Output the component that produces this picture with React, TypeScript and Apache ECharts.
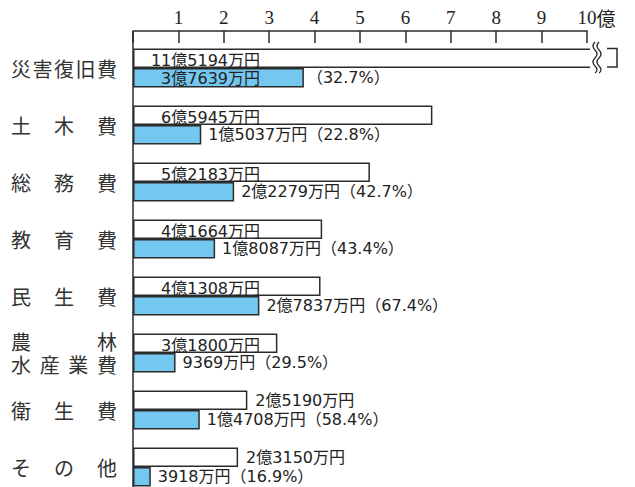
import React, { useEffect, useRef } from "react";
import * as echarts from "echarts";

// ---- data (amounts in 万円) ----
const CATEGORIES = ["災害復旧費", "土木費", "総務費", "教育費", "民生費", "農林\n水産業費", "衛生費", "その他"];
const TOTAL_MAN = [115194, 65945, 52183, 41664, 41308, 31800, 25190, 23150];
const PART_MAN = [37639, 15037, 22279, 18087, 27837, 9369, 14708, 3918];
const PART_PCT = ["32.7", "22.8", "42.7", "43.4", "67.4", "29.5", "58.4", "16.9"];
const AXIS_MIN = 0;
const AXIS_MAX = 10;
const AXIS_INTERVAL = 1;
const UNIT_LABEL = "億";
const BREAK_AT = 10.15; // values above the axis end are drawn broken

const LINE = "#2b2b2b";
const BLUE = "#74c7ef";
const LABEL_FONT = "'DejaVu Sans', 'Noto Sans CJK JP', sans-serif";
const CJK_FONT = "'Noto Sans CJK JP', sans-serif";
const SERIF_FONT = "'Liberation Serif', serif";

const WAVE_D =
  "M4 0 Q0 4 4 8 Q8 12 4 16 Q0 20 4 24 Q8 28 4 31 M8 0 Q4 4 8 8 Q12 12 8 16 Q4 20 8 24 Q12 28 8 31";

let registered = false;
function ensureShapes() {
  if (registered) return;
  echarts.graphic.registerShape("breakWave", echarts.graphic.extendPath(WAVE_D, {}) as any);
  registered = true;
}

function yen(man: number): string {
  const oku = Math.floor(man / 10000);
  const rest = man % 10000;
  return (oku > 0 ? oku + "億" : "") + (rest > 0 ? String(rest) : "") + "万円";
}

function spread(line: string): string {
  const chars = Array.from(line);
  const n = chars.length;
  return chars.map((c, k) => (k === n - 1 ? `{e|${c}}` : `{s${n}|${c}}`)).join("");
}

export default function App() {
  const ref = useRef<HTMLDivElement>(null);

  useEffect(() => {
    if (!ref.current) return;
    ensureShapes();
    const chart = echarts.init(ref.current, null, { renderer: "svg" });

    const catStyle = (w: number) => ({
      width: w,
      align: "left",
      fontSize: 20,
      fontFamily: CJK_FONT,
      color: "#333",
      lineHeight: 23,
    });

    const whiteData = TOTAL_MAN.map((m) => {
      const v = m / 10000;
      const inside = v >= 3;
      return {
        value: Math.min(v, BREAK_AT),
        label: inside
          ? { position: [127, 12], align: "right", verticalAlign: "middle" }
          : { position: "right", distance: 8 },
      };
    });

    const blueData = PART_MAN.map((m) => {
      const v = m / 10000;
      const inside = v >= 3;
      return {
        value: v,
        label: inside
          ? { position: [127, 10.5], align: "right", verticalAlign: "middle" }
          : { position: "right", distance: 7 },
      };
    });

    const pctData = PART_MAN.map((m) => (m / 10000 >= 3 ? { value: 0 } : "-"));

    const labelBase = {
      show: true,
      fontSize: 16,
      fontFamily: LABEL_FONT,
      color: "#222",
    };

    chart.setOption({
      animation: false,
      backgroundColor: "#ffffff",
      grid: { left: 133, right: 48, top: 39.5, height: 456, outerBoundsMode: "none" } as any,
      xAxis: {
        type: "value",
        position: "top",
        min: AXIS_MIN,
        max: AXIS_MAX,
        interval: AXIS_INTERVAL,
        offset: 8.5,
        axisLine: { show: true, lineStyle: { color: LINE, width: 1.5 } },
        axisTick: { show: true, inside: true, length: 12, lineStyle: { color: LINE, width: 1.5 } },
        splitLine: { show: false },
        axisLabel: {
          margin: 4,
          fontSize: 19,
          fontFamily: SERIF_FONT,
          color: "#222",
          formatter: (v: number) =>
            v === AXIS_MIN ? "" : v === AXIS_MAX ? `{p| }{n|${v}}{u|${UNIT_LABEL}}` : String(v),
          rich: {
            p: { width: 19, fontSize: 19 },
            n: { fontSize: 19, fontFamily: SERIF_FONT, color: "#222" },
            u: { fontSize: 19, fontFamily: CJK_FONT, color: "#222" },
          },
        },
      },
      yAxis: {
        type: "category",
        inverse: true,
        data: CATEGORIES,
        axisLine: { show: true, lineStyle: { color: LINE, width: 1.5 } },
        axisTick: { show: false },
        splitLine: { show: false },
        axisLabel: {
          margin: 16,
          formatter: (v: string) => v.split("\n").map(spread).join("\n"),
          rich: {
            e: catStyle(20),
            s2: catStyle(86),
            s3: catStyle(43),
            s4: catStyle(28.67),
            s5: catStyle(21.5),
          },
        },
      },
      series: [
        {
          type: "bar",
          name: "歳出総額",
          data: whiteData,
          barWidth: 19.5,
          barGap: "0%",
          clip: false,
          itemStyle: { color: "#ffffff", borderColor: LINE, borderWidth: 1.5 },
          label: { ...labelBase, formatter: (p: any) => yen(TOTAL_MAN[p.dataIndex]) },
          silent: true,
        },
        {
          type: "bar",
          name: "うち",
          stack: "part",
          data: blueData,
          barWidth: 19.5,
          barGap: "0%",
          itemStyle: { color: BLUE, borderColor: LINE, borderWidth: 1.5 },
          label: {
            ...labelBase,
            formatter: (p: any) => {
              const i = p.dataIndex;
              const s = yen(PART_MAN[i]);
              return PART_MAN[i] / 10000 >= 3 ? s : `${s}（${PART_PCT[i]}%）`;
            },
          },
          silent: true,
        },
        {
          type: "bar",
          name: "割合",
          stack: "part",
          data: pctData,
          barWidth: 19.5,
          itemStyle: { color: "rgba(0,0,0,0)", borderWidth: 0 },
          label: {
            ...labelBase,
            position: "right",
            distance: 3,
            formatter: (p: any) => `（${PART_PCT[p.dataIndex]}%）`,
          },
          silent: true,
        },
      ],
      graphic: [
        {
          type: "line",
          z: 100,
          shape: { x1: 133, y1: 31, x2: 133, y2: 41 },
          style: { stroke: LINE, lineWidth: 1.5 },
          silent: true,
        },
        {
          type: "rect",
          z: 100,
          shape: { x: 590, y: 45, width: 16, height: 25 },
          style: { fill: "#ffffff" },
          silent: true,
        },
        {
          type: "breakWave",
          z: 101,
          x: 591,
          y: 42,
          style: { stroke: LINE, fill: null, lineWidth: 1.3 },
          silent: true,
        },
        {
          type: "polyline",
          z: 101,
          shape: { points: [[607, 48.5], [617, 48.5], [617, 67], [607, 67]] },
          style: { stroke: LINE, fill: null, lineWidth: 1.5 },
          silent: true,
        },
      ],
    } as any);

    return () => chart.dispose();
  }, []);

  return (
    <div
      ref={ref}
      style={{ position: "fixed", left: 0, top: 0, width: 635, height: 487, background: "#fff" }}
    />
  );
}
